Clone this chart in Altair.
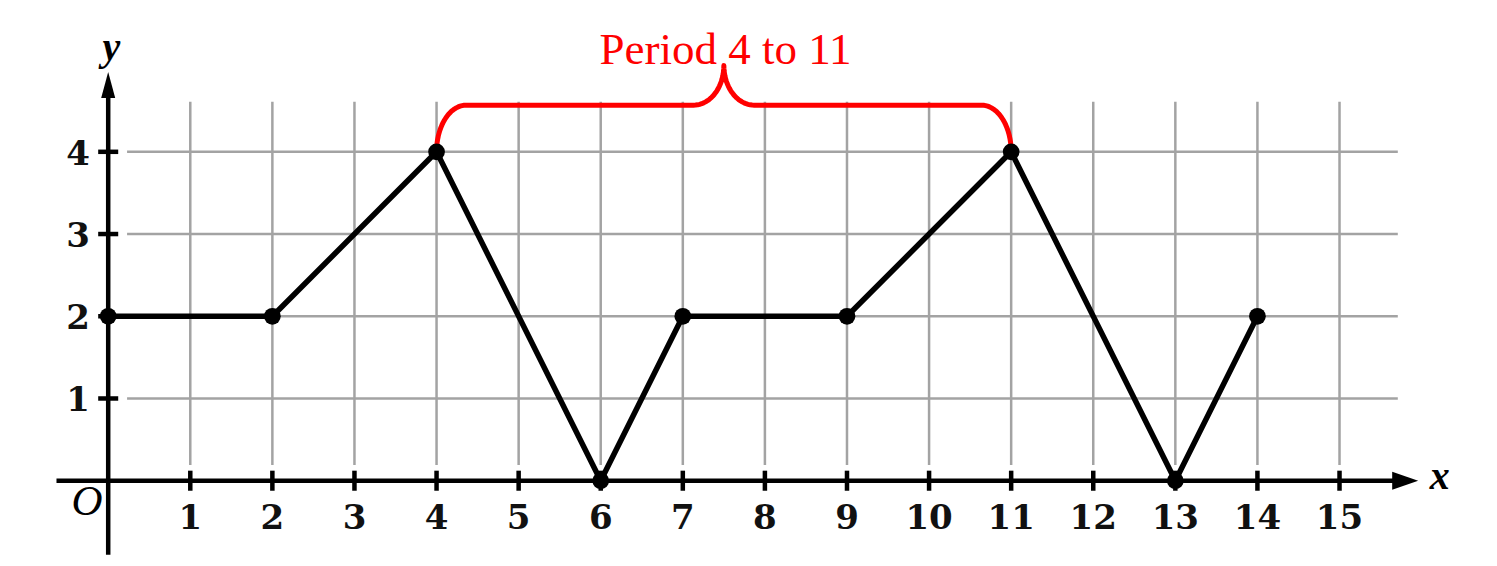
import altair as alt
import numpy as np
import pandas as pd

# ---- data ----
pt_x = [0, 2, 4, 6, 7, 9, 11, 13, 14]
pt_y = [2, 2, 4, 0, 2, 2, 4, 0, 2]
x_ticks = list(range(1, 16))
y_ticks = [1, 2, 3, 4]
period_start = 4
period_end = 11
period_label = "Period 4 to 11"

# ---- view geometry (data units) ----
W, H = 1481, 550
XMIN, XMAX = -1.2206, 16.821
YMIN, YMAX = -0.940, 5.749
xs = alt.Scale(domain=[XMIN, XMAX], nice=False, zero=False)
ys = alt.Scale(domain=[YMIN, YMAX], nice=False, zero=False)


def X(f):
    return alt.X(f, type="quantitative", scale=xs, axis=None)


def Y(f):
    return alt.Y(f, type="quantitative", scale=ys, axis=None)


GRID = "#a3a3a3"

# grid
vgrid = pd.DataFrame({"x": x_ticks, "y0": 0.19, "y1": 4.61})
hgrid = pd.DataFrame({"y": y_ticks, "x0": 0.23, "x1": 15.71})
vg = alt.Chart(vgrid).mark_rule(color=GRID, strokeWidth=2.5).encode(
    x=X("x"), y=Y("y0"), y2="y1")
hg = alt.Chart(hgrid).mark_rule(color=GRID, strokeWidth=2.5).encode(
    y=Y("y"), x=X("x0"), x2="x1")

# axes
xaxis = alt.Chart(pd.DataFrame({"x0": [-0.63], "x1": [15.75], "y": [0]})).mark_rule(
    color="black", strokeWidth=4.5).encode(x=X("x0"), x2="x1", y=Y("y"))
yaxis = alt.Chart(pd.DataFrame({"y0": [-0.9], "y1": [4.75], "x": [0]})).mark_rule(
    color="black", strokeWidth=4.5).encode(y=Y("y0"), y2="y1", x=X("x"))

xarrow = alt.Chart(pd.DataFrame({"x": [15.80], "y": [0]})).mark_point(
    shape="M1,0L-1,-0.69L-1,0.69Z", filled=True, size=676, color="black",
    opacity=1, strokeWidth=0).encode(x=X("x"), y=Y("y"))
yarrow = alt.Chart(pd.DataFrame({"x": [0], "y": [4.814]})).mark_point(
    shape="M0,-1L-0.54,1L0.54,1Z", filled=True, size=676, color="black",
    opacity=1, strokeWidth=0).encode(x=X("x"), y=Y("y"))

# ticks
xt = alt.Chart(pd.DataFrame({"x": x_ticks, "y0": -0.122, "y1": 0.122})).mark_rule(
    color="black", strokeWidth=4.5).encode(x=X("x"), y=Y("y0"), y2="y1")
yt = alt.Chart(pd.DataFrame({"y": y_ticks, "x0": -0.122, "x1": 0.122})).mark_rule(
    color="black", strokeWidth=4.5).encode(y=Y("y"), x=X("x0"), x2="x1")

# tick labels
xl = alt.Chart(pd.DataFrame({"x": x_ticks, "y": 0, "t": [str(v) for v in x_ticks]})).mark_text(
    font="DejaVu Serif", fontWeight="bold", fontSize=34, align="center",
    baseline="alphabetic", dy=48, color="#111").encode(x=X("x"), y=Y("y"), text="t:N")
yl = alt.Chart(pd.DataFrame({"y": y_ticks, "x": -0.222, "t": [str(v) for v in y_ticks]})).mark_text(
    font="DejaVu Serif", fontWeight="bold", fontSize=34, align="right",
    baseline="alphabetic", dy=13, color="#111").encode(x=X("x"), y=Y("y"), text="t:N")

# axis names
names = pd.DataFrame({"x": [-0.257, 16.22, 0.04], "y": [0, 0, 5.117],
                      "t": ["O", "x", "y"]})
nO = alt.Chart(names.iloc[[0]]).mark_text(
    font="Liberation Serif", fontStyle="italic", fontSize=43, align="center",
    baseline="alphabetic", dy=34, color="black").encode(x=X("x"), y=Y("y"), text="t:N")
nx = alt.Chart(names.iloc[[1]]).mark_text(
    font="Liberation Serif", fontStyle="italic", fontWeight="bold", fontSize=40, align="center",
    baseline="alphabetic", dy=8.5, color="black").encode(x=X("x"), y=Y("y"), text="t:N")
ny = alt.Chart(names.iloc[[2]]).mark_text(
    font="Liberation Serif", fontStyle="italic", fontWeight="bold", fontSize=40, align="center",
    baseline="alphabetic", color="black").encode(x=X("x"), y=Y("y"), text="t:N")

# main function
df = pd.DataFrame({"x": pt_x, "y": pt_y, "i": range(len(pt_x))})
line = alt.Chart(df).mark_line(color="black", strokeWidth=5.5, strokeJoin="round").encode(
    x=X("x"), y=Y("y"), order="i:Q")
pts = alt.Chart(df).mark_circle(color="black", size=280, opacity=1).encode(
    x=X("x"), y=Y("y"))

# brace built from the period endpoints
base = pt_y[pt_x.index(period_start)]
level, tip = 4.567, 5.05
rc, rt = 0.36, 0.37
xm = (period_start + period_end) / 2
bx, by = [], []


def arc(cx, cy, rx, ry, t0, t1, n=24):
    t = np.linspace(t0, t1, n)
    bx.extend(cx + rx * np.cos(t))
    by.extend(cy + ry * np.sin(t))


arc(period_start + rc, base, rc, level - base, np.pi, np.pi / 2)
arc(xm - rt, tip, rt, tip - level, -np.pi / 2, 0)
arc(xm + rt, tip, rt, tip - level, np.pi, 1.5 * np.pi)
arc(period_end - rc, base, rc, level - base, np.pi / 2, 0)
brace_df = pd.DataFrame({"x": bx, "y": by, "i": range(len(bx))})
brace = alt.Chart(brace_df).mark_line(color="#ff0000", strokeWidth=5, strokeJoin="round").encode(
    x=X("x"), y=Y("y"), order="i:Q")

plabel = alt.Chart(pd.DataFrame({"x": [xm + 0.02], "y": [5.064], "t": [period_label]})).mark_text(
    font="Liberation Serif", fontSize=45, align="center", baseline="alphabetic",
    color="#ff0000").encode(x=X("x"), y=Y("y"), text="t:N")

chart = alt.layer(
    vg, hg, xaxis, yaxis, xarrow, yarrow, xt, yt, xl, yl, nO, nx, ny,
    line, brace, pts, plabel
).properties(
    width=W, height=H, padding=0, autosize=alt.AutoSizeParams(type="none")
).configure_view(stroke=None)

chart.save("out.html", embed_options={"renderer": "svg", "actions": False})
